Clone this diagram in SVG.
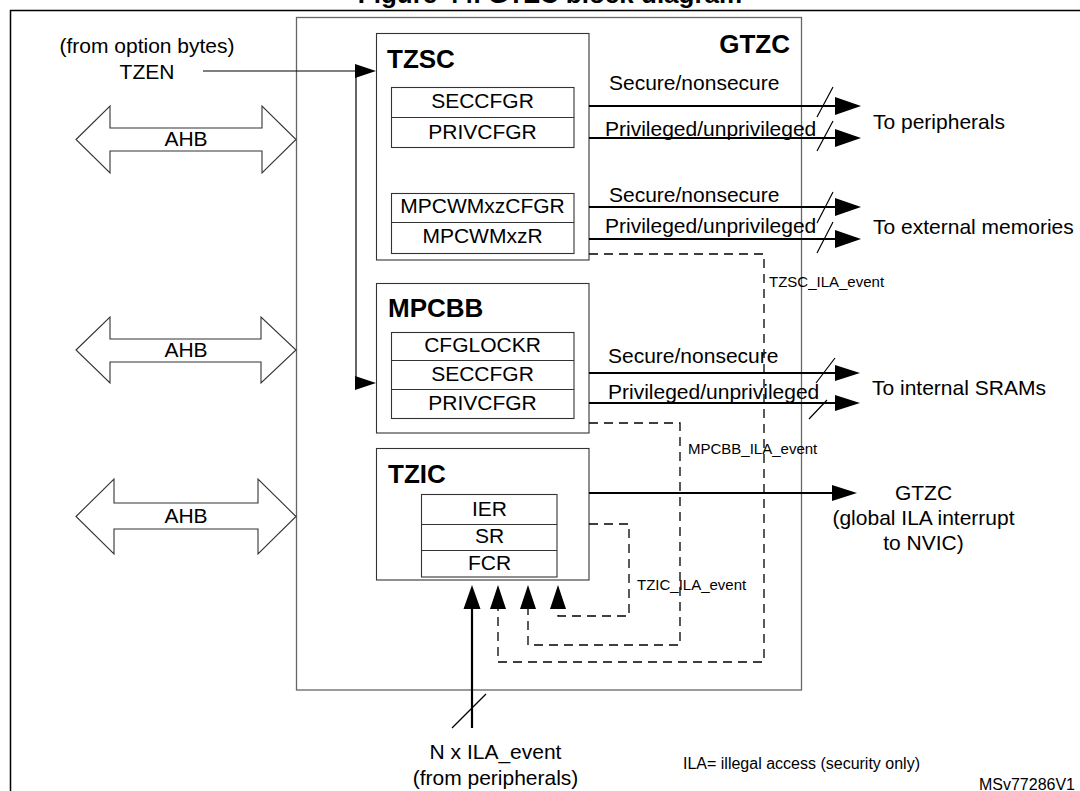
<svg xmlns="http://www.w3.org/2000/svg" width="1080" height="791" viewBox="0 0 1080 791">
<defs>
<style>
text{font-family:"Liberation Sans",Arial,sans-serif;fill:#000}
.t21{font-size:21px}
.t15{font-size:15px}
.t16{font-size:16px}
.b26{font-size:26px;font-weight:bold}
.mid{text-anchor:middle}
.frame{fill:none;stroke:#000;stroke-width:1.5}
.gtzc{fill:#fff;stroke:#666;stroke-width:1.3}
.blk{fill:#fff;stroke:#333;stroke-width:1.1}
.reg{fill:#fff;stroke:#333;stroke-width:1.1}
.sig{fill:none;stroke:#000;stroke-width:2.2}
.thin{fill:none;stroke:#000;stroke-width:1.2}
.dash{fill:none;stroke:#000;stroke-width:1.3;stroke-dasharray:9,6}
.head{fill:#000;stroke:none}
.bus{fill:#fff;stroke:#333;stroke-width:1.1}
</style>
</defs>
<rect width="1080" height="791" fill="#fff"/>
<text class="b26 mid" x="550" y="3">Figure 44. GTZC block diagram</text>
<path class="frame" d="M10.5 800 V10.5 H1090"/>

<g id="gtzc">
<rect class="gtzc" x="296.5" y="17.5" width="505" height="672.5"/>
<text class="b26" x="790" y="53" text-anchor="end">GTZC</text>
</g>

<g id="tzsc">
<rect class="blk" x="376.5" y="33.5" width="212.5" height="226.5"/>
<text class="b26" x="387" y="68">TZSC</text>
<rect class="reg" x="391.5" y="87.5" width="182.5" height="60"/>
<line class="reg" x1="391.5" y1="117.5" x2="574" y2="117.5"/>
<text class="t21 mid" x="482.5" y="108">SECCFGR</text>
<text class="t21 mid" x="482.5" y="139">PRIVCFGR</text>
<rect class="reg" x="391.5" y="193.5" width="182.5" height="60"/>
<line class="reg" x1="391.5" y1="222.5" x2="574" y2="222.5"/>
<text class="t21 mid" x="482.5" y="213">MPCWMxzCFGR</text>
<text class="t21 mid" x="482.5" y="243">MPCWMxzR</text>
</g>

<g id="mpcbb">
<rect class="blk" x="376.5" y="283.5" width="212.5" height="149.5"/>
<text class="b26" x="388" y="317">MPCBB</text>
<rect class="reg" x="391.5" y="332.5" width="182.5" height="86"/>
<line class="reg" x1="391.5" y1="360.5" x2="574" y2="360.5"/>
<line class="reg" x1="391.5" y1="389.5" x2="574" y2="389.5"/>
<text class="t21 mid" x="482.5" y="352">CFGLOCKR</text>
<text class="t21 mid" x="482.5" y="381">SECCFGR</text>
<text class="t21 mid" x="482.5" y="410">PRIVCFGR</text>
</g>

<g id="tzic">
<rect class="blk" x="376.5" y="448.5" width="212.5" height="131.5"/>
<text class="b26" x="388" y="483">TZIC</text>
<rect class="reg" x="421.5" y="494.5" width="135.5" height="82.5"/>
<line class="reg" x1="421.5" y1="524.5" x2="557" y2="524.5"/>
<line class="reg" x1="421.5" y1="550.5" x2="557" y2="550.5"/>
<text class="t21 mid" x="489.5" y="516">IER</text>
<text class="t21 mid" x="489.5" y="543">SR</text>
<text class="t21 mid" x="489.5" y="570">FCR</text>
</g>

<g id="ahb1">
<polygon class="bus" points="76,139.5 110,106 110,128 262,128 262,106 296,139.5 262,173 262,151 110,151 110,173"/>
<text class="t21 mid" x="186" y="146">AHB</text>
</g>
<g id="ahb2">
<polygon class="bus" points="76,350 110,317 110,339 261,339 261,317 296,350 261,383 261,362 110,362 110,383"/>
<text class="t21 mid" x="186" y="357">AHB</text>
</g>
<g id="ahb3">
<polygon class="bus" points="76,516.5 114,479 114,503 258,503 258,479 296,516.5 258,554 258,529 114,529 114,554"/>
<text class="t21 mid" x="186" y="523">AHB</text>
</g>

<g id="labels">
<text class="t21 mid" x="147" y="53">(from option bytes)</text>
<text class="t21 mid" x="147" y="79">TZEN</text>
<text class="t21" x="609" y="90">Secure/nonsecure</text>
<text class="t21" x="605" y="136">Privileged/unprivileged</text>
<text class="t21" x="609" y="202">Secure/nonsecure</text>
<text class="t21" x="605" y="233">Privileged/unprivileged</text>
<text class="t21" x="608" y="363">Secure/nonsecure</text>
<text class="t21" x="608" y="399">Privileged/unprivileged</text>
<text class="t21" x="873" y="129">To peripherals</text>
<text class="t21" x="873" y="234">To external memories</text>
<text class="t21" x="872" y="395">To internal SRAMs</text>
<text class="t21 mid" x="923.5" y="500">GTZC</text>
<text class="t21 mid" x="923.5" y="525">(global ILA interrupt</text>
<text class="t21 mid" x="923.5" y="550">to NVIC)</text>
<text class="t15" x="769" y="287">TZSC_ILA_event</text>
<text class="t15" x="688" y="454">MPCBB_ILA_event</text>
<text class="t15" x="637" y="590">TZIC_ILA_event</text>
<text class="t21 mid" x="495.5" y="759">N x ILA_event</text>
<text class="t21 mid" x="495.5" y="785">(from peripherals)</text>
<text class="t16" x="683" y="769">ILA= illegal access (security only)</text>
<text class="t16" x="1075" y="790" text-anchor="end">MSv77286V1</text>
</g>

<g id="connectors">
<!-- TZEN -->
<path class="thin" d="M203 71 H356"/>
<polygon class="head" points="355,64 376,71 355,78"/>
<path class="thin" d="M356 71 V383 H356"/>
<polygon class="head" points="355,376 376,383 355,390"/>
<!-- outputs -->
<path class="sig" d="M589 106 H837 M589 138 H837 M589 207 H837 M589 239 H837 M589 373 H837 M589 403 H837 M589 493 H834"/>
<polygon class="head" points="835,97 861,106 835,115"/>
<polygon class="head" points="835,129 861,138 835,147"/>
<polygon class="head" points="835,198 861,207 835,216"/>
<polygon class="head" points="835,230 861,239 835,248"/>
<polygon class="head" points="835,365 860,373 835,381"/>
<polygon class="head" points="835,395 860,403 835,411"/>
<polygon class="head" points="832,485 857,493 832,501"/>
<path class="thin" d="M817 117 L833 87 M817 151 L833 121 M817 223 L833 192 M817 253 L833 222 M816 383 L835 358 M809 419 L827 400"/>
<!-- ILA events -->
<path class="dash" d="M589 254 H764 V662 H498 V609"/>
<path class="dash" d="M589 423 H680 V645 H528 V609"/>
<path class="dash" d="M589 524 H629 V616 H558 V609"/>
<polygon class="head" points="490,609 498,585 506,609"/>
<polygon class="head" points="520,609 528,585 536,609"/>
<polygon class="head" points="550,609 558,585 566,609"/>
<path class="sig" d="M472 728 V607"/>
<polygon class="head" points="463.5,609 472,585 480.5,609"/>
<path class="thin" d="M452 728 L486 694"/>
</g>
</svg>
